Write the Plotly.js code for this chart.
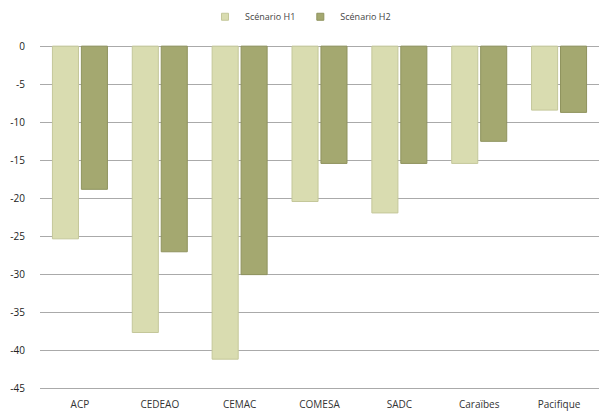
<!DOCTYPE html>
<html>
<head>
<meta charset="utf-8">
<script src="https://cdn.plot.ly/plotly-3.0.1.min.js"></script>
<style>html,body{margin:0;padding:0;background:#fff;}#chart{width:601px;height:419px;}</style>
</head>
<body>
<div id="chart"></div>
<script>
var categories = ['ACP', 'CEDEAO', 'CEMAC', 'COMESA', 'SADC', 'Caraïbes', 'Pacifique'];
var seriesNames = ['Scénario H1', 'Scénario H2'];
var h1Values = [-25.3, -37.6, -41.1, -20.4, -21.9, -15.4, -8.4];
var h2Values = [-18.8, -27.0, -30.0, -15.4, -15.4, -12.5, -8.7];
var yTickVals = [0, -5, -10, -15, -20, -25, -30, -35, -40, -45];
var yTickText = ['0', '-5', '-10', '-15', '-20', '-25', '-30', '-35', '-40', '-45'];
var colors = ['#d9dcb0', '#a4a870'];
var edgeColors = ['#c4c79a', '#8f935e'];

var traces = [
  {type: 'bar', name: seriesNames[0], x: categories, y: h1Values, showlegend: false,
   marker: {color: colors[0], line: {color: edgeColors[0], width: 1}}},
  {type: 'bar', name: seriesNames[1], x: categories, y: h2Values, showlegend: false,
   marker: {color: colors[1], line: {color: edgeColors[1], width: 1}}},
  {type: 'scatter', mode: 'markers', name: seriesNames[0], x: [null], y: [null],
   marker: {symbol: 'square', size: 7, color: colors[0], line: {color: edgeColors[0], width: 1}}},
  {type: 'scatter', mode: 'markers', name: seriesNames[1], x: [null], y: [null],
   marker: {symbol: 'square', size: 7, color: colors[1], line: {color: edgeColors[1], width: 1}}}
];

var layout = {
  width: 601, height: 419,
  margin: {l: 40, r: 2, t: 44, b: 28},
  paper_bgcolor: '#fff', plot_bgcolor: '#fff',
  font: {family: 'Open Sans, sans-serif', size: 10, color: '#222'},
  barmode: 'group', bargap: 0.275, bargroupgap: 0.1,
  showlegend: true,
  legend: {orientation: 'h', x: 0.5, xanchor: 'center', xref: 'container',
           y: 0.96, yanchor: 'middle', yref: 'container',
           font: {size: 9, color: '#444'}, itemwidth: 12, traceorder: 'normal'},
  xaxis: {type: 'category', showgrid: false, showline: false, ticks: '', zeroline: false,
          tickfont: {size: 10, color: '#333'}, ticklabelstandoff: 6, fixedrange: true},
  yaxis: {range: [-45.28, 0.28], tickvals: yTickVals, ticktext: yTickText,
          showgrid: true, gridcolor: '#aaaaaa', gridwidth: 1, zeroline: false,
          showline: false, ticks: '', ticklen: 0, tickfont: {size: 10, color: '#222'},
          ticklabelstandoff: 14, fixedrange: true}
};

Plotly.newPlot('chart', traces, layout, {displayModeBar: false, staticPlot: true});
</script>
</body>
</html>
